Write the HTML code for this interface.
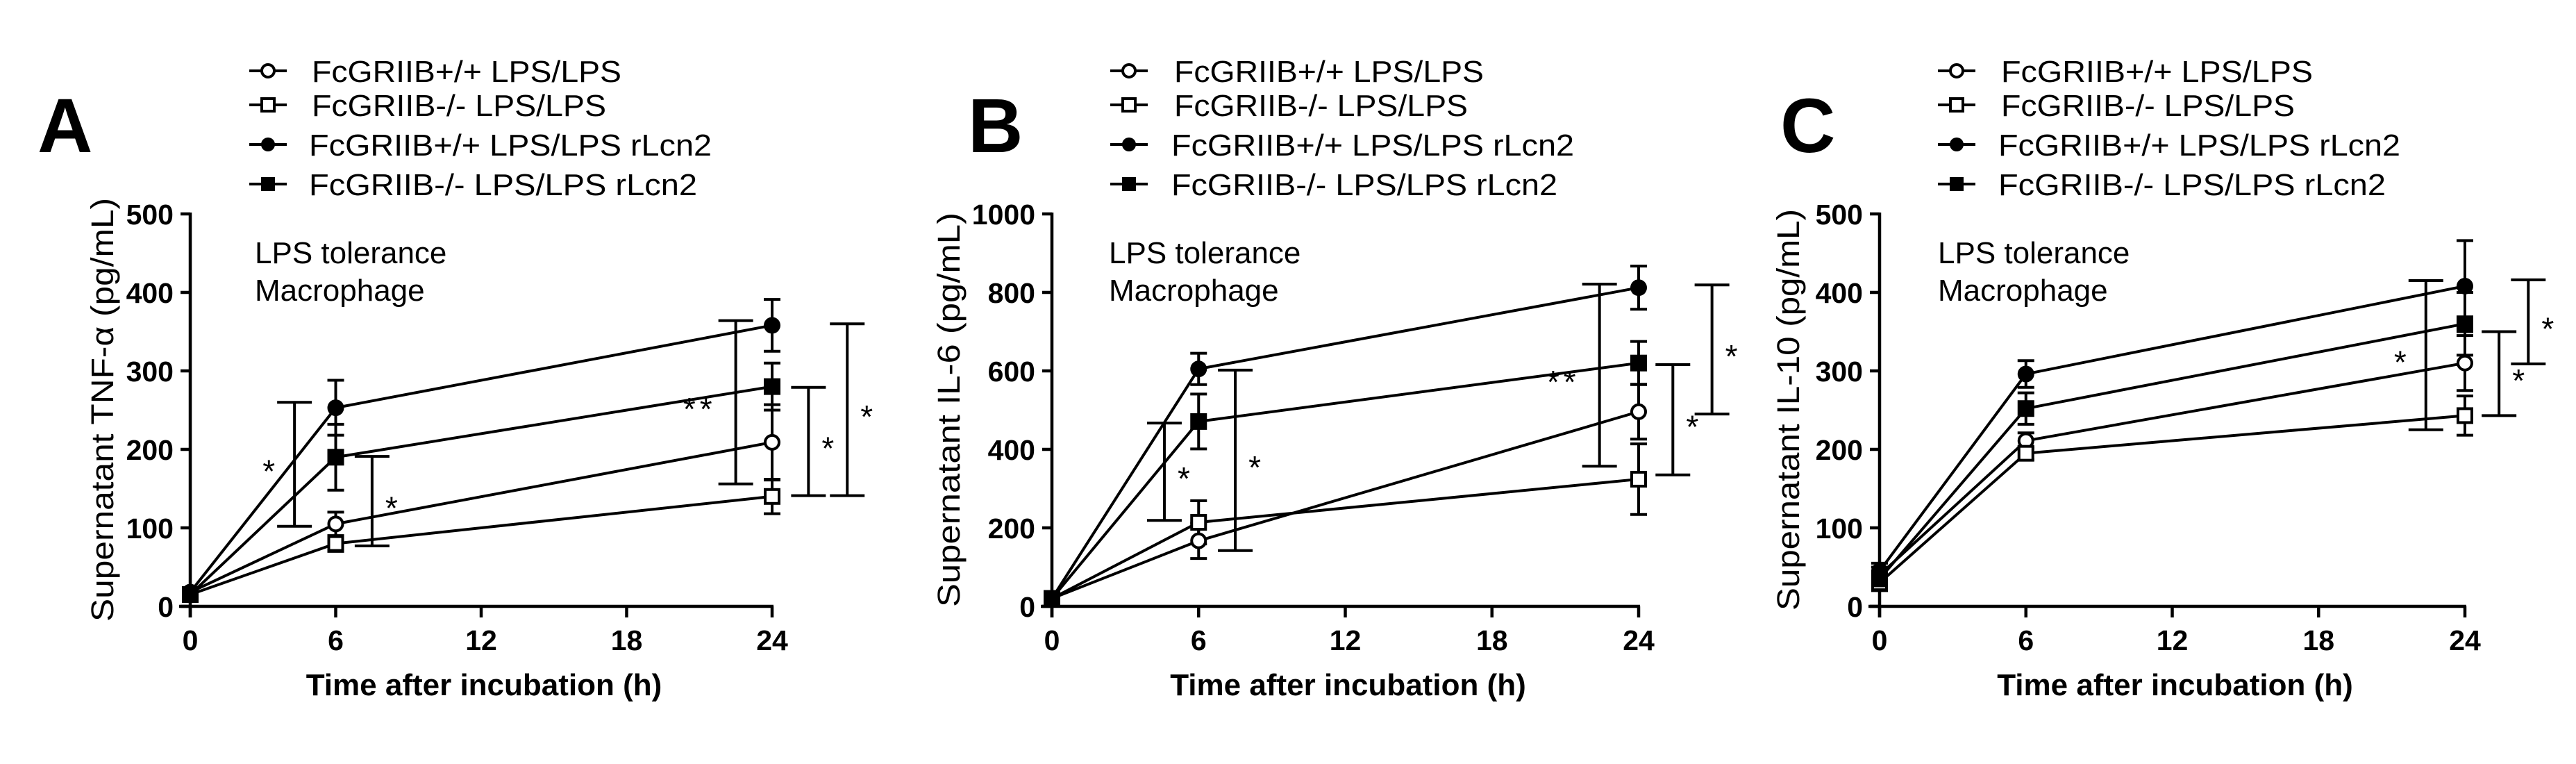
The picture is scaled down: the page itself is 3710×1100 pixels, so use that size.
<!DOCTYPE html>
<html><head><meta charset="utf-8"><style>
html,body{margin:0;padding:0;background:#fff;}
svg{display:block;font-family:"Liberation Sans",Arial,sans-serif;}
</style></head><body>
<svg id="fig" width="3710" height="1100" viewBox="0 0 3710 1100" xmlns="http://www.w3.org/2000/svg"></svg>
<script>
// ---- data ----
const hours = [0, 6, 24];
const xTicks = [0, 6, 12, 18, 24];
const seriesNames = ["FcGRIIB+/+ LPS/LPS","FcGRIIB-/- LPS/LPS","FcGRIIB+/+ LPS/LPS rLcn2","FcGRIIB-/- LPS/LPS rLcn2"];

const aTicks = [0,100,200,300,400,500];
const aOpenCircle = [18,105,209];
const aOpenSquare = [15,80,140];
const aFillCircle = [18,253,358];
const aFillSquare = [15,190,280];
const aErrOpenCircle = [5,15,48];
const aErrOpenSquare = [5,10,22];
const aErrFillCircle = [5,35,33];
const aErrFillSquare = [5,42,30];
const aBrHour = [4.3,7.5,22.5,25.5,27.1];
const aBrLow = [102,77,156,141,141];
const aBrHigh = [260,191,364,279,360];
const aBrLabel = ["*","*","**","*","*"];
const aBrSide = [-1,1,-1,1,1];

const bTicks = [0,200,400,600,800,1000];
const bOpenCircle = [20,167,496];
const bOpenSquare = [20,214,324];
const bFillCircle = [20,605,812];
const bFillSquare = [20,471,620];
const bErrOpenCircle = [8,45,70];
const bErrOpenSquare = [8,55,90];
const bErrFillCircle = [8,40,55];
const bErrFillSquare = [8,70,55];
const bBrHour = [4.6,7.5,22.4,25.4,27];
const bBrLow = [219,142,357,335,490];
const bBrHigh = [467,602,821,616,819];
const bBrLabel = ["*","*","**","*","*"];
const bBrSide = [1,1,-1,1,1];

const cTicks = [0,100,200,300,400,500];
const cOpenCircle = [40,211,310];
const cOpenSquare = [30,195,243];
const cFillCircle = [45,296,408];
const cFillSquare = [35,252,360];
const cErrOpenCircle = [10,10,35];
const cErrOpenSquare = [10,8,25];
const cErrFillCircle = [10,17,58];
const cErrFillSquare = [10,20,40];
const cBrHour = [22.4,25.4,26.6];
const cBrLow = [225,243,309];
const cBrHigh = [415,350,416];
const cBrLabel = ["*","*","*"];
const cBrSide = [-1,1,1];

// ---- drawing ----
const NS = "http://www.w3.org/2000/svg";
const svg = document.getElementById("fig");
function mk(tag, attrs, parent) {
  const e = document.createElementNS(NS, tag);
  for (const k in attrs) e.setAttribute(k, attrs[k]);
  (parent || svg).appendChild(e);
  return e;
}
function txt(str, attrs, parent) { const t = mk("text", attrs, parent); t.textContent = str; return t; }

function marker(g, type, cx, cy, r) {
  let m;
  if (type === 0) m = mk("circle", {cx:cx, cy:cy, r:r-2, fill:"#fff", stroke:"#000", "stroke-width":4}, g);
  else if (type === 1) m = mk("rect", {x:cx-r+2, y:cy-r+2, width:2*r-4, height:2*r-4, fill:"#fff", stroke:"#000", "stroke-width":4}, g);
  else if (type === 2) m = mk("circle", {cx:cx, cy:cy, r:r, fill:"#000"}, g);
  else m = mk("rect", {x:cx-r, y:cy-r, width:2*r, height:2*r, fill:"#000"}, g);
  return m;
}

function panel(p) {
  const g = mk("g", {});
  
  
  const y0 = 873, H = 565, X0 = p.x0, W = p.w;
  const yMax = p.ticks[p.ticks.length - 1];
  const sx = h => X0 + h / 24 * W;
  const sy = v => y0 - v / yMax * H;

  const letter = txt(p.letter, {x:p.letterX, y:219, "font-size":110, "font-weight":"bold"}, g);
  
  

  // legend
  const lg = mk("g", {}, g);
  
  
  const rowsY = [102,151,208,265];
  for (let i = 0; i < 4; i++) {
    const eg = mk("g", {}, lg);
    
    
    mk("line", {x1:p.legX, x2:p.legX+54, y1:rowsY[i], y2:rowsY[i], stroke:"#000", "stroke-width":4}, eg);
    marker(eg, i, p.legX+27, rowsY[i], i < 2 ? 11 : 10);
    txt(seriesNames[i], {x:(i<2?p.legT:p.legT-4), y:rowsY[i]+16, "font-size":44, textLength:p.legW[i], lengthAdjust:"spacingAndGlyphs"}, eg);
  }

  const n1 = txt("LPS tolerance", {x:p.noteX, y:379, "font-size":44}, g);
  
  
  const n2 = txt("Macrophage", {x:p.noteX, y:433, "font-size":44}, g);
  
  

  // axes
  const ax = mk("g", {}, g);
  
  
  mk("line", {x1:X0, x2:X0, y1:sy(yMax)-2, y2:y0+16, stroke:"#000", "stroke-width":4.5}, ax);
  mk("line", {x1:X0-16, x2:X0+W+2, y1:y0, y2:y0, stroke:"#000", "stroke-width":4.5}, ax);
  p.ticks.forEach(v => {
    mk("line", {x1:X0-14, x2:X0, y1:sy(v), y2:sy(v), stroke:"#000", "stroke-width":4.5}, ax);
    const t = txt(String(v), {x:X0-24, y:sy(v)+15, "font-size":41, "font-weight":"bold", "text-anchor":"end"}, ax);
    
    
  });
  xTicks.forEach(h => {
    mk("line", {x1:sx(h), x2:sx(h), y1:y0, y2:y0+16, stroke:"#000", "stroke-width":4.5}, ax);
    const t = txt(String(h), {x:sx(h), y:936, "font-size":41, "font-weight":"bold", "text-anchor":"middle"}, ax);
    
    
  });
  const xt = txt("Time after incubation (h)", {x:X0+W/2+4, y:1001, "font-size":44, "font-weight":"bold", "text-anchor":"middle"}, ax);
  
  
  const yt = txt(p.ylabel, {x:0, y:0, "font-size":45, "text-anchor":"middle", transform:"translate(" + p.ylabX + ",590) rotate(-90)", textLength:p.ylabW, lengthAdjust:"spacingAndGlyphs"}, ax);
  
  

  // series
  const series = [p.s[0], p.s[1], p.s[2], p.s[3]];
  const errs = [p.e[0], p.e[1], p.e[2], p.e[3]];
  series.forEach((vals, si) => {
    const sg = mk("g", {}, g);
    
    
    const pts = vals.map((v, i) => sx(hours[i]) + "," + sy(v)).join(" ");
    mk("polyline", {points:pts, fill:"none", stroke:"#000", "stroke-width":4}, sg);
  });
  series.forEach((vals, si) => {
    vals.forEach((v, i) => {
      const e = errs[si][i];
      const cx = sx(hours[i]);
      mk("line", {x1:cx, x2:cx, y1:sy(v+e), y2:sy(v-e), stroke:"#000", "stroke-width":4}, g);
      mk("line", {x1:cx-12, x2:cx+12, y1:sy(v+e), y2:sy(v+e), stroke:"#000", "stroke-width":4}, g);
      mk("line", {x1:cx-12, x2:cx+12, y1:sy(v-e), y2:sy(v-e), stroke:"#000", "stroke-width":4}, g);
    });
  });
  series.forEach((vals, si) => {
    vals.forEach((v, i) => {
      const m = marker(g, si, sx(hours[i]), sy(v), 12);
      
      
    });
  });

  // significance brackets
  p.brH.forEach((h, i) => {
    const bg = mk("g", {}, g);
    
    
    const bx = sx(h), t = sy(p.brHi[i]), b = sy(p.brLo[i]);
    mk("line", {x1:bx, x2:bx, y1:t, y2:b, stroke:"#000", "stroke-width":4}, bg);
    mk("line", {x1:bx-25, x2:bx+25, y1:t, y2:t, stroke:"#000", "stroke-width":4}, bg);
    mk("line", {x1:bx-25, x2:bx+25, y1:b, y2:b, stroke:"#000", "stroke-width":4}, bg);
    const lab = p.brL[i];
    const off = p.brS[i] > 0 ? 28 : -28;
    txt(lab, {x:bx+off, y:(t+b)/2+26, "font-size":46, "text-anchor":p.brS[i] > 0 ? "middle" : "end", "letter-spacing":lab.length>1?6:0}, bg);
  });
}

panel({id:"tnf", letter:"A", letterX:54, x0:274, w:838, ticks:aTicks,
  s:[aOpenCircle,aOpenSquare,aFillCircle,aFillSquare], e:[aErrOpenCircle,aErrOpenSquare,aErrFillCircle,aErrFillSquare],
  brH:aBrHour, brLo:aBrLow, brHi:aBrHigh, brL:aBrLabel, brS:aBrSide,
  legX:359, legT:449, legW:[446,424,580,559], noteX:367,
  ylabel:"Supernatant TNF-\u03b1 (pg/mL)", ylabX:163, ylabW:610});
panel({id:"il6", letter:"B", letterX:1394, x0:1515, w:845, ticks:bTicks,
  s:[bOpenCircle,bOpenSquare,bFillCircle,bFillSquare], e:[bErrOpenCircle,bErrOpenSquare,bErrFillCircle,bErrFillSquare],
  brH:bBrHour, brLo:bBrLow, brHi:bBrHigh, brL:bBrLabel, brS:bBrSide,
  legX:1599, legT:1691, legW:[446,423,580,556], noteX:1597,
  ylabel:"Supernatant IL-6 (pg/mL)", ylabX:1382, ylabW:568});
panel({id:"il10", letter:"C", letterX:2564, x0:2707, w:843, ticks:cTicks,
  s:[cOpenCircle,cOpenSquare,cFillCircle,cFillSquare], e:[cErrOpenCircle,cErrOpenSquare,cErrFillCircle,cErrFillSquare],
  brH:cBrHour, brLo:cBrLow, brHi:cBrHigh, brL:cBrLabel, brS:cBrSide,
  legX:2791, legT:2882, legW:[449,423,579,558], noteX:2791,
  ylabel:"Supernatant IL-10 (pg/mL)", ylabX:2591, ylabW:578});
</script>
</body></html>
